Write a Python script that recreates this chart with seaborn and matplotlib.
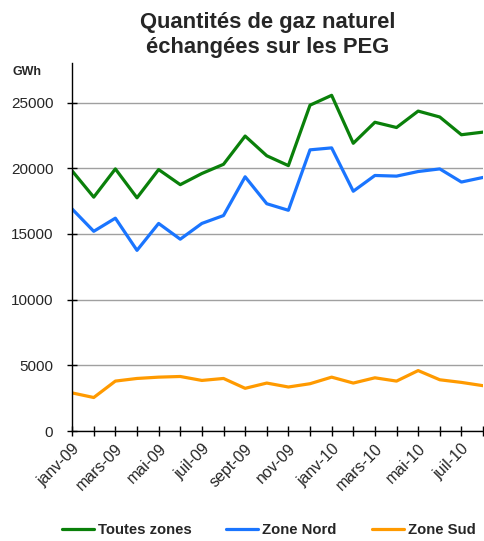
import matplotlib
matplotlib.use("Agg")
import matplotlib.pyplot as plt
import numpy as np
import pandas as pd
import seaborn as sns

months = ["janv-09", "févr-09", "mars-09", "avr-09", "mai-09", "juin-09", "juil-09",
          "août-09", "sept-09", "oct-09", "nov-09", "déc-09", "janv-10", "févr-10",
          "mars-10", "avr-10", "mai-10", "juin-10", "juil-10", "août-10"]
toutes_zones = [19800, 17800, 19950, 17750, 19900, 18750, 19600, 20300, 22450, 20950,
                20200, 24800, 25550, 21900, 23500, 23100, 24350, 23900, 22550, 22750]
zone_nord = [16900, 15200, 16200, 13750, 15800, 14600, 15800, 16400, 19350, 17300,
             16800, 21400, 21550, 18250, 19450, 19400, 19750, 19950, 18950, 19300]
zone_sud = [2900, 2550, 3800, 4000, 4100, 4150, 3850, 4000, 3250, 3650,
            3350, 3600, 4100, 3650, 4050, 3800, 4600, 3900, 3700, 3450]

series = {"Toutes zones": toutes_zones, "Zone Nord": zone_nord, "Zone Sud": zone_sud}
colors = {"Toutes zones": "#0a800a", "Zone Nord": "#1a75ff", "Zone Sud": "#ff9a00"}

df = pd.DataFrame({"idx": np.arange(len(months)), **series})
df = df.melt(id_vars="idx", var_name="zone", value_name="GWh")

sns.set_theme(style="white")
plt.rcParams["font.family"] = ["Liberation Sans", "DejaVu Sans"]

fig = plt.figure(figsize=(4.84, 5.41), dpi=100)
ax = fig.add_axes([0.149, 0.2033, 0.849, 0.68])

sns.lineplot(data=df, x="idx", y="GWh", hue="zone", palette=colors,
             linewidth=2.3, ax=ax, legend=False)

ax.set_xlim(0, len(months) - 1)
ax.set_ylim(0, 28000)
ax.set_yticks([0, 5000, 10000, 15000, 20000, 25000])
ax.set_yticklabels(["0", "5000", "10000", "15000", "20000", "25000"], fontsize=11)
ax.set_xticks(np.arange(0, len(months), 2))
ax.set_xticklabels(months[::2], rotation=45, ha="right", rotation_mode="anchor",
                   fontsize=11.5)
ax.set_xticks(np.arange(len(months)), minor=True)
ax.tick_params(axis="both", which="both", direction="inout", length=7, width=1,
               color="black", bottom=True, left=True)
ax.tick_params(axis="x", pad=4)
ax.tick_params(axis="y", pad=10)
ax.set_xlabel("")
ax.set_ylabel("")
ax.grid(axis="y", color="#a0a0a0", linewidth=1)
ax.set_axisbelow(True)
for side in ["top", "right"]:
    ax.spines[side].set_visible(False)
for side in ["left", "bottom"]:
    ax.spines[side].set_color("black")
    ax.spines[side].set_linewidth(1)

fig.text(0.553, 0.978, "Quantités de gaz naturel\néchangées sur les PEG",
         ha="center", va="top", fontsize=15.8, fontweight="bold", linespacing=1.25)
fig.text(0.025, 0.862, "GWh", fontsize=9, fontweight="bold")

handles = [plt.Line2D([], [], color=colors[k], linewidth=2.3) for k in series]
fig.legend(handles, list(series), loc="lower center", bbox_to_anchor=(0.555, -0.018),
           ncol=3, frameon=False, prop={"weight": "bold", "size": 10.7},
           handlelength=2.15, handletextpad=0.27, columnspacing=2.35)

fig.savefig("out.png", dpi=100, facecolor="white")
